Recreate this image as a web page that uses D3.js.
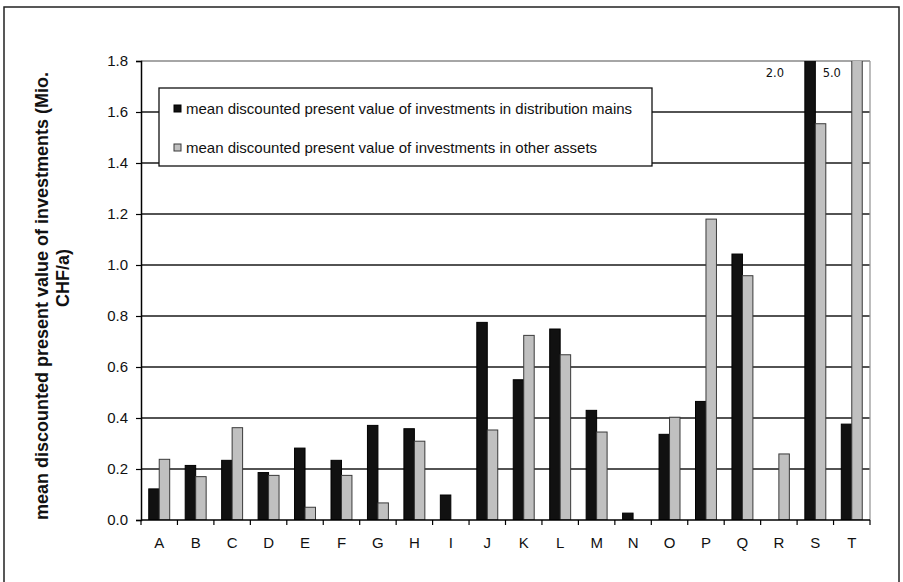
<!DOCTYPE html>
<html>
<head>
<meta charset="utf-8">
<script src="https://cdn.jsdelivr.net/npm/d3@7"></script>
<style>
  body { margin: 0; background: #fff; }
  text { font-family: "Liberation Sans", Arial, sans-serif; }
</style>
</head>
<body>
<div id="chart-area"></div>
<script>
// values
var categories = ["A","B","C","D","E","F","G","H","I","J","K","L","M","N","O","P","Q","R","S","T"];
var distributionMains = [0.122,0.214,0.234,0.186,0.282,0.234,0.371,0.358,0.098,0.775,0.550,0.749,0.430,0.027,0.336,0.465,1.043,0,2.0,0.376];
var otherAssets = [0.238,0.170,0.362,0.175,0.050,0.175,0.067,0.309,0,0.353,0.724,0.648,0.345,0,0.403,1.180,0.958,0.259,1.554,5.0];
var yTicks = [0,0.2,0.4,0.6,0.8,1.0,1.2,1.4,1.6,1.8];
var seriesNames = ["mean discounted present value of investments in distribution mains",
                   "mean discounted present value of investments in other assets"];
var seriesFill = ["#111111", "#c0c0c0"];
var seriesStroke = ["#000000", "#3a3a3a"];

var W = 903, H = 582;
var margin = {top: 61, left: 141, right: 33, bottom: 62};
var width = W - margin.left - margin.right;
var height = H - margin.top - margin.bottom;

var svg = d3.select("#chart-area").append("svg")
    .attr("width", W).attr("height", H);

// outer frame
svg.append("rect")
    .attr("x", 4).attr("y", 7)
    .attr("width", 895).attr("height", 600)
    .attr("fill", "none").attr("stroke", "#222").attr("stroke-width", 1.5);

var g = svg.append("g")
    .attr("transform", "translate(" + margin.left + "," + margin.top + ")");

var x = d3.scaleBand().domain(categories).range([0, width]);
var xSub = d3.scaleBand().domain([0, 1]).range([0, x.bandwidth()]).paddingOuter(0.74);
var y = d3.scaleLinear().domain([0, 1.8]).range([height, 0]);

// gridlines
g.append("g").selectAll("line")
    .data(yTicks.slice(1))
    .enter().append("line")
    .attr("x1", 0).attr("x2", width)
    .attr("y1", d => y(d)).attr("y2", d => y(d))
    .attr("stroke", d => d === 1.8 ? "#888" : "#1a1a1a")
    .attr("stroke-width", 1.3);

// right plot border
g.append("line")
    .attr("x1", width).attr("x2", width)
    .attr("y1", 0).attr("y2", height)
    .attr("stroke", "#999").attr("stroke-width", 1.3);

svg.append("clipPath").attr("id", "plot-clip")
    .append("rect").attr("x", 0).attr("y", 0).attr("width", width).attr("height", height);

var bars = g.append("g").attr("clip-path", "url(#plot-clip)");
[distributionMains, otherAssets].forEach((vals, s) => {
    bars.selectAll(".bar" + s)
        .data(vals.map((v, i) => ({cat: categories[i], v: v})).filter(d => d.v > 0))
        .enter().append("rect")
        .attr("class", "bar" + s)
        .attr("x", d => x(d.cat) + xSub(s))
        .attr("width", xSub.bandwidth())
        .attr("y", d => y(Math.min(d.v, 1.9)))
        .attr("height", d => height - y(Math.min(d.v, 1.9)))
        .attr("fill", seriesFill[s])
        .attr("stroke", seriesStroke[s])
        .attr("stroke-width", 1);
});

// value labels for bars that run off the top
var offLabels = [
    {cat: "S", s: 0, text: "2.0", dx: -30},
    {cat: "T", s: 1, text: "5.0", dx: -20}
];
g.selectAll(".off-label")
    .data(offLabels)
    .enter().append("text")
    .attr("class", "off-label")
    .attr("x", d => x(d.cat) + xSub(d.s) + d.dx)
    .attr("y", y(1.8) + 16)
    .attr("text-anchor", "middle")
    .style("font-family", "'DejaVu Sans', sans-serif")
    .attr("font-size", "11.5px")
    .attr("fill", "#111")
    .text(d => d.text);

// x axis
var xAxis = g.append("g")
    .attr("transform", "translate(0," + height + ")");
xAxis.append("line")
    .attr("x1", 0).attr("x2", width)
    .attr("stroke", "#000").attr("stroke-width", 1.5);
xAxis.selectAll(".xtick")
    .data(categories.concat(["end"]))
    .enter().append("line")
    .attr("x1", (d, i) => i * x.step()).attr("x2", (d, i) => i * x.step())
    .attr("y1", 0).attr("y2", 5)
    .attr("stroke", "#000").attr("stroke-width", 1.2);
xAxis.selectAll(".xlabel")
    .data(categories)
    .enter().append("text")
    .attr("x", d => x(d) + x.bandwidth() / 2)
    .attr("y", 28)
    .attr("text-anchor", "middle")
    .attr("font-size", "15px")
    .attr("fill", "#111")
    .text(d => d);

// y axis
var yAxis = d3.axisLeft(y)
    .tickValues(yTicks)
    .tickSize(5)
    .tickPadding(8)
    .tickFormat(d3.format(".1f"));
var ya = g.append("g").call(yAxis);
ya.select(".domain").attr("stroke", "#000").attr("stroke-width", 1.5);
ya.selectAll(".tick line").attr("stroke", "#000").attr("stroke-width", 1.2);
ya.selectAll("text")
    .attr("font-size", "15px")
    .attr("fill", "#111")
    .style("font-family", "'Liberation Sans', Arial, sans-serif");

// y axis title (two lines)
svg.append("text")
    .attr("transform", "translate(48,296) rotate(-90)")
    .attr("text-anchor", "middle")
    .attr("font-size", "18px")
    .attr("font-weight", "bold")
    .attr("fill", "#111")
    .text("mean discounted present value of investments (Mio.");
svg.append("text")
    .attr("transform", "translate(69,278) rotate(-90)")
    .attr("text-anchor", "middle")
    .attr("font-size", "18px")
    .attr("font-weight", "bold")
    .attr("fill", "#111")
    .text("CHF/a)");

// legend
var legend = svg.append("g").attr("transform", "translate(159,88)");
legend.append("rect")
    .attr("width", 493).attr("height", 78)
    .attr("fill", "#fff").attr("stroke", "#111").attr("stroke-width", 1.3);
seriesNames.forEach((name, i) => {
    var row = legend.append("g").attr("transform", "translate(0," + (21 + i * 39) + ")");
    row.append("rect")
        .attr("x", 15).attr("y", -4)
        .attr("width", 7).attr("height", 7)
        .attr("fill", seriesFill[i]).attr("stroke", seriesStroke[i]);
    row.append("text")
        .attr("x", 27).attr("y", 5)
        .attr("font-size", "15px")
        .attr("fill", "#111")
        .text(name);
});
</script>
</body>
</html>
